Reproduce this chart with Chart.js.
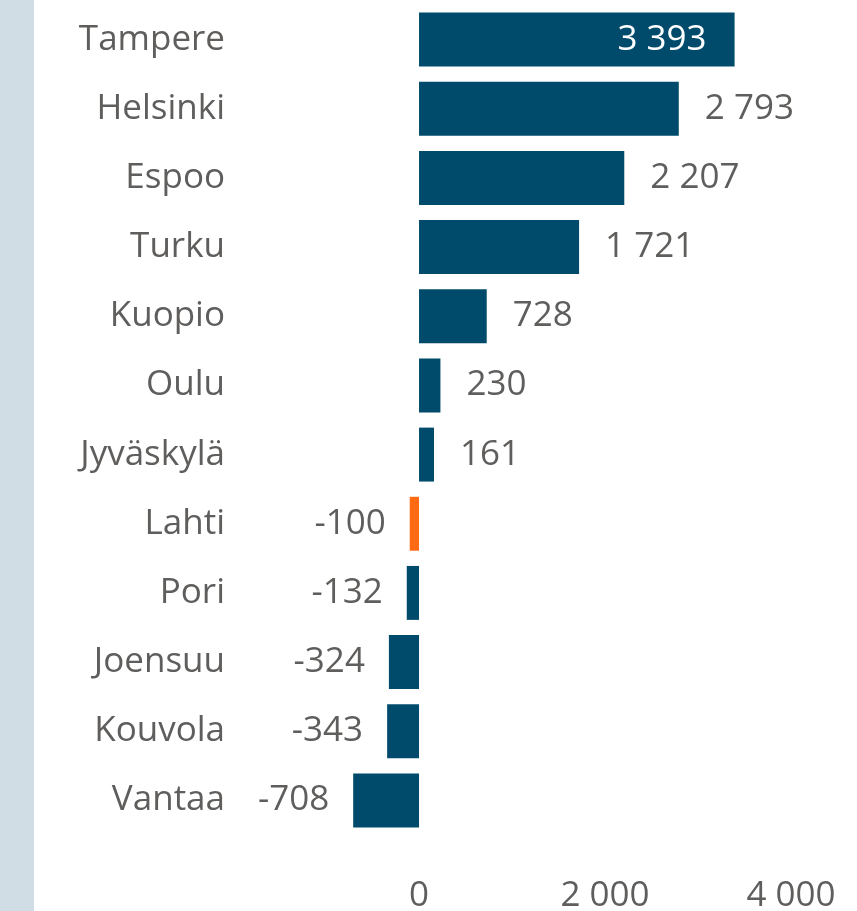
<!DOCTYPE html>
<html>
<head>
<meta charset="utf-8">
<script src="https://cdn.jsdelivr.net/npm/chart.js@4.4.1/dist/chart.umd.min.js"></script>
<style>
  html, body { margin: 0; padding: 0; }
  body {
    width: 857px; height: 911px; overflow: hidden;
    background: linear-gradient(to right, #d1dde4 0, #d1dde4 34px, #ffffff 34px);
  }
  #wrap { position: relative; width: 857px; height: 911px; }
</style>
</head>
<body>
<div id="wrap"><canvas id="chart" width="857" height="911"></canvas></div>
<script>
// cities and net change values
const cities = ["Tampere", "Helsinki", "Espoo", "Turku", "Kuopio", "Oulu", "Jyväskylä", "Lahti", "Pori", "Joensuu", "Kouvola", "Vantaa"];
const values = [3393, 2793, 2207, 1721, 728, 230, 161, -100, -132, -324, -343, -708];
const xTicks = [0, 2000, 4000];

const highlight = "Lahti";
const barColor = "#004b6b";
const highlightColor = "#ff6a13";
const textColor = "#605e5c";
const fontFamily = "'Open Sans', 'Noto Sans', sans-serif";

// numbers like "3 393"
function fmt(v) {
  const s = Math.abs(v).toString().replace(/\B(?=(\d{3})+(?!\d))/g, " ");
  return (v < 0 ? "-" : "") + s;
}

// simple data labels, drawn after the bars
const barLabels = {
  id: "barLabels",
  afterDatasetsDraw(chart) {
    const ctx = chart.ctx;
    const area = chart.chartArea;
    const meta = chart.getDatasetMeta(0);
    ctx.save();
    ctx.font = "35px " + fontFamily;
    ctx.textBaseline = "middle";
    meta.data.forEach((bar, i) => {
      const v = values[i];
      const txt = fmt(v);
      const w = ctx.measureText(txt).width;
      const gap = 26;
      if (v >= 0) {
        if (bar.x + gap + w > area.right - 20) {
          // too close to the edge, put it inside the bar
          ctx.fillStyle = "#ffffff";
          ctx.textAlign = "right";
          ctx.fillText(txt, bar.x - 28, bar.y);
        } else {
          ctx.fillStyle = textColor;
          ctx.textAlign = "left";
          ctx.fillText(txt, bar.x + gap, bar.y);
        }
      } else {
        ctx.fillStyle = textColor;
        ctx.textAlign = "right";
        ctx.fillText(txt, bar.x - 24, bar.y);
      }
    });
    ctx.restore();
  }
};

new Chart(document.getElementById("chart"), {
  type: "bar",
  data: {
    labels: cities,
    datasets: [{
      data: values,
      backgroundColor: cities.map(c => c === highlight ? highlightColor : barColor),
      borderWidth: 0,
      categoryPercentage: 1,
      barPercentage: 0.78
    }]
  },
  options: {
    indexAxis: "y", // horizontal bars
    responsive: false,
    animation: false,
    layout: { padding: { top: 5, right: 7, left: 0, bottom: 0 } },
    plugins: {
      legend: { display: false },
      tooltip: { enabled: false }
    },
    scales: {
      x: {
        min: -1925,
        max: 4634,
        grid: { display: false, drawTicks: false },
        border: { display: false },
        afterBuildTicks: (scale) => { scale.ticks = xTicks.map(v => ({ value: v })); },
        afterFit: (scale) => {
          scale.height = 76;
          scale.paddingLeft = 0;
          scale.paddingRight = 0;
        },
        ticks: {
          color: textColor,
          font: { size: 35, family: fontFamily },
          padding: 40,
          maxRotation: 0,
          callback: (v) => fmt(v)
        }
      },
      y: {
        grid: { display: false, drawTicks: false },
        border: { display: false },
        afterFit: (scale) => {
          scale.width = 240;
          scale.paddingTop = 0;
          scale.paddingBottom = 0;
        },
        ticks: {
          color: textColor,
          font: { size: 35, family: fontFamily },
          padding: 15
        }
      }
    }
  },
  plugins: [barLabels]
});
</script>
</body>
</html>
